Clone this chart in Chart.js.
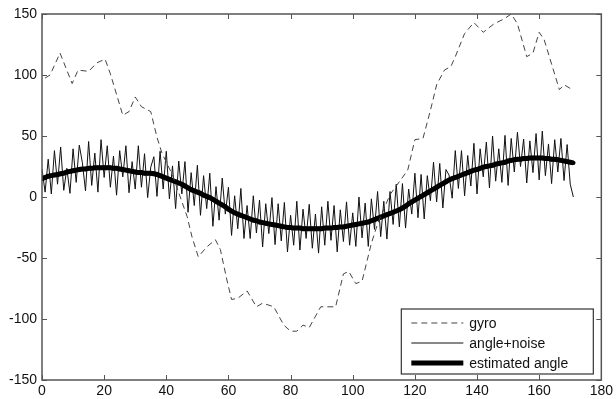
<!DOCTYPE html>
<html>
<head>
<meta charset="utf-8">
<script src="https://cdn.jsdelivr.net/npm/chart.js@4"></script>
<style>
  body { margin: 0; background: #fff; }
  #wrap { width: 616px; height: 399px; }
</style>
</head>
<body>
<div id="wrap"><canvas id="chartCanvas" width="616" height="399"></canvas></div>
<script>
const gyroX = [1, 2.6, 5.8, 9.7, 11.6, 15, 17.7, 20.3, 22, 26, 28, 30, 32, 35, 37, 38.6, 42, 46.7, 48.3, 50.3,
  53, 55.8, 57.4, 59.5, 61, 63, 66, 69, 71, 74.6, 77.8, 80, 82, 84, 86, 89.7, 94.5, 97, 98.7, 101,
  103, 106, 108, 112, 117.7, 120, 122.6, 125, 127, 129.5, 131.6, 133, 136, 139, 142, 145.5, 148.7, 151, 153, 156,
  158, 160, 161.6, 166.5, 168, 170];
const gyroY = [97.5, 100, 118, 93, 104, 103, 110, 113, 101, 67, 70, 82, 74, 70, 49, 36, 18, -16, -33, -49,
  -41, -35, -43, -68, -84, -83, -77, -90, -87, -90, -105, -110, -110, -105, -107, -90, -90, -63, -61, -71,
  -69, -38, -22, 2, 22, 47, 48, 71, 92, 104, 107, 115, 134, 143, 135, 142, 146, 150, 142, 115,
  118, 135, 129, 88, 92, 89];

// angle + noise, one value per sample (x = 0 .. 171)
const noisyAngle = [
  23, 4, 31, 2.5, 38, 10.5, 41, 5.5, 23.5, 3, 39.5,
  12, 42.5, 28, 5, 45.5, 9.5, 36, 4, 47, 16,
  42, 8, 33.5, 1.5, 38, 16.5, 42, 3.5, 29, 6.5,
  42, 8, 35.5, -0.5, 24.5, 33, 0.5, 37.5, 6.5, 37.5,
  -1.5, 25.5, -9.5, 29.5, 2.5, 29, -12.5, 20, -7, 26,
  -15, 17.5, -9.5, 19.5, -24, 8.5, -19, 15.5, -14, 8,
  -31.5, 1, -26, 7, -34, -7, -34, 1, -29.5, -2.5,
  -41, -5.5, -30, -0.5, -39, -5.5, -36, -4.5, -45, -15,
  -39.5, -3.5, -43.5, -10, -34, -6, -42, -14, -46, -8,
  -39.5, -3.5, -35.5, -7, -45, -10.5, -36.5, -4, -39.5, -13,
  -40.5, 0, -33.5, -5, -40.5, -1.5, -26.5, 4.5, -32.5, -3.5,
  -34.5, 4.5, -22.5, 10.5, -24.5, 11, -25.5, 6.5, -14, 19.5,
  -17, 18.5, -18, 17.5, -3, 28.5, -4, 27.5, -9, 22.5,
  18, -1, 38, 7, 38, 1, 34, 9, 44, 2.5,
  39.5, 16.5, 45, 7.5, 50, 13, 39.5, 12, 50.5, 9.5,
  48, 20.5, 53, 25, 47.5, 11.5, 46, 20, 52, 14,
  54, 17.5, 43.5, 11, 47, 20.5, 48, 13.5, 43, 10.5, 0
];

// estimated angle, one value per sample (x = 0 .. 171)
const estimatedAngle = [
  15, 16, 17, 17.5, 18, 18.5, 19, 19.5, 20.5, 21, 21.5,
  22, 22.5, 23, 23, 23.5, 23.5, 24, 24, 24, 24,
  24, 24, 23.5, 23.5, 23, 22.5, 22, 21.5, 21, 20.5,
  20, 20, 19.5, 19.5, 19.5, 19, 18.5, 17.5, 16.5, 15.5,
  14.5, 13.5, 12.5, 11.5, 10.5, 9, 7.5, 6, 5, 4,
  3, 1.5, 0.5, -0.5, -2, -3.5, -5, -6.5, -8, -10,
  -11.5, -13, -14, -15, -16, -17, -18, -19, -19.5, -20.5,
  -21, -21.5, -22, -22.5, -23, -23.5, -24, -24.5, -25, -25,
  -25.5, -25.5, -25.5, -26, -26, -26, -26, -26, -26, -26,
  -25.5, -25.5, -25.5, -25, -25, -24.5, -24.5, -24, -23.5, -23,
  -22.5, -22, -21.5, -21, -20.5, -19.5, -18.5, -17.5, -16.5, -15.5,
  -14.5, -13.5, -12.5, -11.5, -10.5, -9, -7.5, -5.5, -4, -2.5,
  -1, 0.5, 2, 3.5, 5, 6.5, 8, 9.5, 11, 12.5,
  14, 15, 16, 17, 18, 19, 20, 21, 22, 22.5,
  23.5, 24.5, 25, 25.5, 26, 27, 27.5, 28, 28.5, 29.5,
  30, 30.5, 31, 31, 31.5, 31.5, 32, 32, 32, 32,
  32, 31.5, 31.5, 31, 31, 30.5, 30, 29.5, 29, 28.5, 28
];

const seriesNames = ['gyro', 'angle+noise', 'estimated angle'];
const xTicks = [0, 20, 40, 60, 80, 100, 120, 140, 160, 180];
const yTicks = [-150, -100, -50, 0, 50, 100, 150];

const FONT = "'Liberation Sans', Arial, Helvetica, sans-serif";
const AXIS_COLOR = '#555';

// marcos del eje y ticks hacia dentro, estilo MATLAB
const boxPlugin = {
  id: 'box',
  afterDatasetsDraw(chart) {
    const { ctx, chartArea: a, scales } = chart;
    ctx.save();
    ctx.strokeStyle = AXIS_COLOR;
    ctx.lineWidth = 1.5;
    ctx.strokeRect(a.left, a.top, a.right - a.left, a.bottom - a.top);
    ctx.lineWidth = 1;
    ctx.beginPath();
    xTicks.forEach(v => {
      const px = Math.round(scales.x.getPixelForValue(v)) + 0.5;
      ctx.moveTo(px, a.bottom); ctx.lineTo(px, a.bottom - 5);
      ctx.moveTo(px, a.top); ctx.lineTo(px, a.top + 5);
    });
    yTicks.forEach(v => {
      const py = Math.round(scales.y.getPixelForValue(v)) + 0.5;
      ctx.moveTo(a.left, py); ctx.lineTo(a.left + 5, py);
      ctx.moveTo(a.right, py); ctx.lineTo(a.right - 5, py);
    });
    ctx.stroke();

    // leyenda dentro del área, abajo a la derecha
    const w = 192, h = 65;
    const lx = a.right - 8 - w, ly = a.bottom - 6 - h;
    ctx.fillStyle = '#fff';
    ctx.fillRect(lx, ly, w, h);
    ctx.strokeStyle = '#333';
    ctx.lineWidth = 1.2;
    ctx.strokeRect(lx, ly, w, h);
    const rows = [ly + 14, ly + 34, ly + 54];
    chart.data.datasets.forEach((ds, i) => {
      ctx.save();
      ctx.strokeStyle = ds.borderColor;
      ctx.lineWidth = ds.borderWidth;
      ctx.setLineDash(ds.borderDash || []);
      ctx.beginPath();
      ctx.moveTo(lx + 10, rows[i]);
      ctx.lineTo(lx + 62, rows[i]);
      ctx.stroke();
      ctx.restore();
      ctx.fillStyle = '#111';
      ctx.font = '14px ' + FONT;
      ctx.textBaseline = 'middle';
      ctx.fillText(ds.label, lx + 68, rows[i] + 1);
    });
    ctx.restore();
  }
};

const ctx = document.getElementById('chartCanvas').getContext('2d');
new Chart(ctx, {
  type: 'line',
  data: {
    datasets: [
      {
        label: seriesNames[0],
        data: gyroX.map((x, i) => ({ x: x, y: gyroY[i] })),
        borderColor: '#444',
        borderWidth: 1,
        borderDash: [6, 4],
        pointRadius: 0,
        order: 0
      },
      {
        label: seriesNames[1],
        data: noisyAngle.map((y, i) => ({ x: i, y: y })),
        borderColor: '#111',
        borderWidth: 1,
        pointRadius: 0,
        order: 2
      },
      {
        label: seriesNames[2],
        data: estimatedAngle.map((y, i) => ({ x: i, y: y })),
        borderColor: '#000',
        backgroundColor: '#000',
        borderWidth: 5,
        pointRadius: 2.2,
        pointBorderWidth: 0,
        order: 1
      }
    ]
  },
  options: {
    responsive: false,
    animation: false,
    layout: { padding: { top: 14, right: 14, left: 0, bottom: 0 } },
    plugins: { legend: { display: false }, tooltip: { enabled: false } },
    scales: {
      x: {
        type: 'linear',
        min: 0, max: 180,
        afterBuildTicks: s => { s.ticks = xTicks.map(v => ({ value: v })); },
        afterFit: s => { s.height = 19; },
        grid: { display: false, drawTicks: false },
        border: { display: false },
        ticks: { color: '#111', font: { family: FONT, size: 14 }, padding: 3, maxRotation: 0 }
      },
      y: {
        min: -150, max: 150,
        afterBuildTicks: s => { s.ticks = yTicks.map(v => ({ value: v })); },
        afterFit: s => { s.width = 42; },
        grid: { display: false, drawTicks: false },
        border: { display: false },
        ticks: { color: '#111', font: { family: FONT, size: 14 }, padding: 5 }
      }
    }
  },
  plugins: [boxPlugin]
});
</script>
</body>
</html>
